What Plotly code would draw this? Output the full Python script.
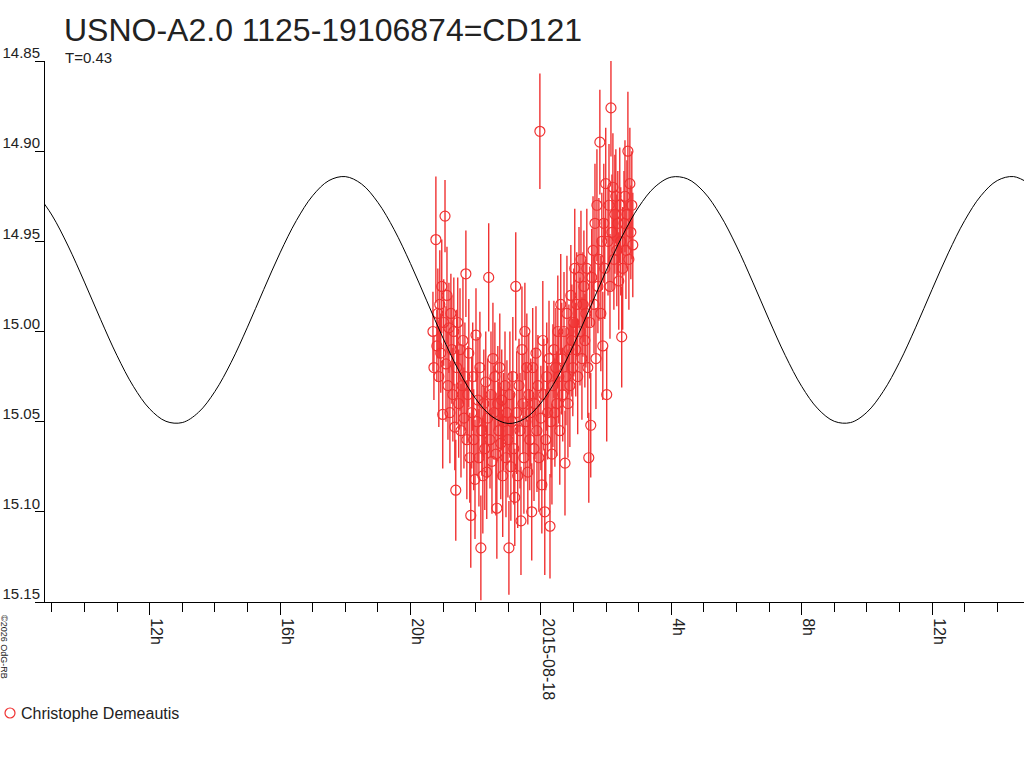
import plotly.graph_objects as go

# ---- data (hours relative to 2015-08-18 00h UT, magnitudes) ----
time_h = [
    -3.31, -3.28, -3.22, -3.19, -3.16, -3.13, -3.10, -3.07, -3.04, -3.01,
    -2.98, -2.94, -2.91, -2.88, -2.85, -2.82, -2.79, -2.76, -2.73,
    -2.70, -2.67, -2.64, -2.61, -2.58, -2.55, -2.52, -2.48, -2.45, -2.42,
    -2.39, -2.36, -2.33, -2.30, -2.27, -2.24, -2.21, -2.18, -2.15, -2.12,
    -2.09, -2.06, -2.02, -1.99, -1.96, -1.93, -1.90, -1.87, -1.84, -1.81,
    -1.78, -1.75, -1.72, -1.69, -1.66, -1.63, -1.60, -1.56, -1.53, -1.50,
    -1.47, -1.44, -1.41, -1.38, -1.35, -1.32, -1.29, -1.26,
    -1.23, -1.20, -1.17, -1.14, -1.10, -1.07, -1.04, -1.01, -0.98, -0.95,
    -0.92, -0.89, -0.86, -0.83, -0.80, -0.77, -0.74, -0.71, -0.67, -0.64,
    -0.61, -0.58, -0.55, -0.52, -0.49, -0.46, -0.43, -0.40, -0.37, -0.34,
    -0.31, -0.28, -0.25, -0.21, -0.18, -0.15, -0.12, -0.09, -0.06, -0.03,
    0.00, 0.03, 0.06, 0.09, 0.12, 0.15, 0.18, 0.21, 0.25, 0.28,
    0.31, 0.34, 0.37, 0.40, 0.43, 0.46, 0.49, 0.52, 0.55, 0.58,
    0.61, 0.64, 0.67, 0.71, 0.74, 0.77, 0.80, 0.83, 0.86, 0.89,
    0.92, 0.95, 0.98, 1.01, 1.04, 1.07, 1.10, 1.13, 1.17, 1.20,
    1.23, 1.26, 1.29, 1.32, 1.35, 1.38, 1.41, 1.44, 1.47, 1.50,
    1.53, 1.56,
    1.60, 1.63, 1.66, 1.69, 1.72, 1.75, 1.78, 1.81, 1.84, 1.87,
    1.90, 1.93, 1.96, 1.99, 2.02, 2.06, 2.09, 2.12, 2.15, 2.18,
    2.21, 2.24, 2.27, 2.30, 2.33, 2.36, 2.39, 2.42, 2.45, 2.48,
    2.51, 2.55, 2.58, 2.61, 2.64, 2.67, 2.70, 2.73, 2.76, 2.79,
    2.82,
]
mag = [
    15.000, 15.020, 14.949, 15.008, 14.990, 15.025, 14.985, 15.012, 14.975, 15.046,
    14.995, 14.936, 15.018, 14.980, 15.030, 14.998, 15.045, 14.990, 15.010,
    15.035, 15.000, 15.053, 15.088, 15.020, 14.995, 15.040, 15.010, 15.055, 15.030,
    15.005, 15.048, 15.025, 14.968, 15.060, 15.035, 15.012, 15.070, 15.102, 15.045,
    15.025, 15.060, 15.082, 15.002, 15.050, 15.038, 15.070, 15.020, 15.120, 15.055,
    15.080, 15.040, 15.065, 15.028, 15.078, 15.048, 14.970, 15.060, 15.035, 15.072,
    15.015, 15.045, 15.025, 15.068, 15.098, 15.040, 15.055, 15.020,
    15.062, 15.038, 15.080, 15.050, 15.030, 15.070, 15.045, 15.060, 15.120, 15.035,
    15.075, 15.050, 15.025, 15.065, 15.092, 14.975, 15.045, 15.080, 15.030, 15.055,
    15.105, 15.010, 15.040, 15.070, 15.000, 15.050, 15.020, 15.078, 15.035, 15.060,
    15.045, 15.100, 15.020, 15.065, 15.040, 15.012, 15.055, 15.030, 15.070, 14.889,
    15.048, 15.085, 15.005, 15.035, 15.100, 15.060, 15.025, 15.045, 15.015, 15.108,
    15.050, 15.068, 15.030, 15.010, 15.045, 15.020, 15.040, 15.000, 15.025, 15.055,
    14.985, 15.015, 15.035, 15.000, 15.073, 15.025, 14.990, 15.040, 15.010, 15.030,
    14.980, 15.005, 15.020, 14.995, 14.965, 15.010, 14.985, 15.025, 14.970, 15.000,
    14.960, 15.015, 14.985, 14.975, 15.005, 14.990, 14.965, 15.020, 15.070, 14.995,
    15.052, 14.970,
    14.955, 14.985, 14.940, 15.015, 14.930, 14.975, 14.960, 14.895, 14.990, 14.950,
    15.008, 14.940, 14.965, 14.918, 15.035, 14.950, 14.930, 14.975, 14.876, 14.945,
    14.920, 14.960, 14.935, 14.925, 14.955, 14.940, 14.972, 14.930, 14.950, 15.003,
    14.965, 14.940, 14.925, 14.955, 14.935, 14.900, 14.960, 14.918, 14.945, 14.930,
    14.952,
]
mag_err = [
    0.022, 0.018, 0.035, 0.020, 0.025, 0.028, 0.030, 0.022, 0.026, 0.030,
    0.024, 0.020, 0.032, 0.027, 0.030, 0.025, 0.028, 0.022, 0.030,
    0.026, 0.030, 0.024, 0.028, 0.032, 0.025, 0.030, 0.034, 0.026, 0.022,
    0.035, 0.028, 0.030, 0.024, 0.033, 0.027, 0.030, 0.025, 0.029, 0.031,
    0.030, 0.028, 0.033, 0.026, 0.030, 0.035, 0.027, 0.031, 0.029, 0.025,
    0.032, 0.030, 0.034, 0.028, 0.026, 0.033, 0.030, 0.027, 0.035, 0.029,
    0.031, 0.026, 0.030, 0.034, 0.028, 0.032, 0.027, 0.030,
    0.031, 0.028, 0.034, 0.027, 0.030, 0.033, 0.029, 0.032, 0.026, 0.035,
    0.030, 0.028, 0.033, 0.031, 0.027, 0.030, 0.034, 0.029, 0.026, 0.032,
    0.030, 0.035, 0.028, 0.031, 0.027, 0.033, 0.030, 0.029, 0.034, 0.028,
    0.030, 0.027, 0.033, 0.029, 0.031, 0.026, 0.034, 0.028, 0.030, 0.032,
    0.029, 0.027, 0.033, 0.031, 0.035, 0.028, 0.030, 0.026, 0.032, 0.029,
    0.031, 0.028, 0.034, 0.027, 0.030, 0.033, 0.029, 0.031, 0.026, 0.030,
    0.028, 0.031, 0.026, 0.033, 0.029, 0.027, 0.032, 0.030, 0.025, 0.034,
    0.028, 0.031, 0.027, 0.030, 0.033, 0.026, 0.029, 0.032, 0.028, 0.030,
    0.027, 0.034, 0.029, 0.031, 0.026, 0.030, 0.033, 0.028, 0.025, 0.031,
    0.029, 0.027,
    0.030, 0.027, 0.033, 0.028, 0.031, 0.026, 0.034, 0.029, 0.032, 0.027,
    0.030, 0.033, 0.028, 0.031, 0.026, 0.030, 0.034, 0.029, 0.027, 0.032,
    0.030, 0.028, 0.033, 0.026, 0.031, 0.029, 0.027, 0.032, 0.030, 0.028,
    0.034, 0.029, 0.031, 0.027, 0.030, 0.033, 0.028, 0.031, 0.026, 0.030,
    0.029,
]

# fitted light-curve model, every half hour
model_t = [
    -15.5, -15.0, -14.5, -14.0, -13.5, -13.0, -12.5, -12.0, -11.5, -11.0,
    -10.5, -10.0, -9.5, -9.0, -8.5, -8.0, -7.5, -7.0, -6.5, -6.0,
    -5.5, -5.0, -4.5, -4.0, -3.5, -3.0, -2.5, -2.0, -1.5, -1.0,
    -0.5, 0.0, 0.5, 1.0, 1.5, 2.0, 2.5, 3.0, 3.5, 4.0,
    4.5, 5.0, 5.5, 6.0, 6.5, 7.0, 7.5, 8.0, 8.5, 9.0,
    9.5, 10.0, 10.5, 11.0, 11.5, 12.0, 12.5, 13.0, 13.5, 14.0,
    14.5, 15.0,
]
model_mag = [
    14.9226, 14.9354, 14.9526, 14.9726, 14.9935, 15.0134, 15.0304, 15.0429, 15.0498, 15.0505,
    15.0448, 15.0333, 15.0171, 14.9976, 14.9767, 14.9564, 14.9385, 14.9247, 14.9163, 14.9141,
    14.9182, 14.9284, 14.9435, 14.9623, 14.9830, 15.0037, 15.0223, 15.0373, 15.0471, 15.0510,
    15.0484, 15.0397, 15.0257, 15.0076, 14.9872, 14.9664, 14.9470, 14.9310, 14.9198, 14.9144,
    14.9154, 14.9226, 14.9354, 14.9526, 14.9726, 14.9935, 15.0134, 15.0304, 15.0429, 15.0498,
    15.0505, 15.0448, 15.0333, 15.0171, 14.9976, 14.9767, 14.9564, 14.9385, 14.9247, 14.9163,
    14.9141, 14.9182,
]

x_tickvals = [-12, -8, -4, 0, 4, 8, 12]
x_ticktext = ["12h", "16h", "20h", "2015-08-18", "4h", "8h", "12h"]
y_tickvals = [14.85, 14.90, 14.95, 15.00, 15.05, 15.10, 15.15]

title_text = "USNO-A2.0 1125-19106874=CD121"
subtitle_text = "T=0.43"
observer = "Christophe Demeautis"
credit = "©2026 OdG-RB"

RED = "#f03232"
FONT = "Liberation Sans, Arial, sans-serif"
TXT = "#222222"

fig = go.Figure()
fig.add_trace(go.Scatter(
    x=time_h, y=mag, mode="markers", name=observer,
    marker=dict(symbol="circle-open", size=10, color=RED, line=dict(width=1.2, color=RED)),
    error_y=dict(type="data", array=mag_err, visible=True, color=RED, thickness=1.4, width=0),
    showlegend=False,
))
fig.add_trace(go.Scatter(
    x=model_t, y=model_mag, mode="lines", line=dict(color="black", width=1, shape="spline"),
    showlegend=False, hoverinfo="skip",
))

fig.update_layout(
    width=1024, height=768,
    margin=dict(l=45, r=0, t=61, b=166, autoexpand=False),
    paper_bgcolor="white", plot_bgcolor="white",
    font=dict(family=FONT, size=16, color=TXT),
    showlegend=False,
)
fig.update_xaxes(
    range=[-15.21, 14.82], showgrid=False, zeroline=False, automargin=False,
    showline=True, linecolor="black", linewidth=1,
    tickmode="array", tickvals=x_tickvals, ticktext=x_ticktext,
    ticks="outside", ticklen=12, tickcolor="black", tickwidth=1,
    tickangle=90, ticklabelshift=7, ticklabelstandoff=0,
    tickfont=dict(family=FONT, size=16, color=TXT),
    minor=dict(dtick=1, tick0=0, ticks="outside", ticklen=9, tickcolor="black", tickwidth=1, showgrid=False),
)
fig.update_yaxes(
    range=[15.15, 14.85], showgrid=False, zeroline=False, automargin=False,
    showline=True, linecolor="black", linewidth=1,
    tickmode="array", tickvals=y_tickvals, tickformat=".2f",
    ticks="outside", ticklen=9, tickcolor="black", tickwidth=1,
    ticklabelposition="outside top", ticklabelstandoff=1, ticklabelshift=-3,
    tickfont=dict(family=FONT, size=15, color=TXT),
)

PW = 979
PH = 541

def px_x(px):
    return (px - 45) / PW

def px_y(py):
    return (602 - py) / PH

fig.add_annotation(text=title_text, xref="paper", yref="paper", x=px_x(62), y=px_y(30),
                   xanchor="left", yanchor="middle", showarrow=False,
                   font=dict(family=FONT, size=32, color=TXT))
fig.add_annotation(text=subtitle_text, xref="paper", yref="paper", x=px_x(63), y=px_y(58),
                   xanchor="left", yanchor="middle", showarrow=False,
                   font=dict(family=FONT, size=15, color=TXT))
fig.add_annotation(text=observer, xref="paper", yref="paper", x=px_x(19), y=px_y(713),
                   xanchor="left", yanchor="middle", showarrow=False,
                   font=dict(family=FONT, size=16, color=TXT))
fig.add_annotation(text=credit, xref="paper", yref="paper", x=px_x(4), y=px_y(647),
                   xanchor="center", yanchor="middle", showarrow=False, textangle=90,
                   font=dict(family=FONT, size=9, color=TXT))
fig.add_shape(type="circle", xref="paper", yref="paper", xsizemode="pixel", ysizemode="pixel",
              xanchor=px_x(10), yanchor=px_y(713), x0=-5, x1=5, y0=-5, y1=5,
              line=dict(color=RED, width=1.2))

# the page body has a default 8px margin; remove it so the figure fills the window exactly
fig.write_html("out.html", config={"displayModeBar": False},
               post_script="document.body.style.margin='0';document.body.style.overflow='hidden';")
